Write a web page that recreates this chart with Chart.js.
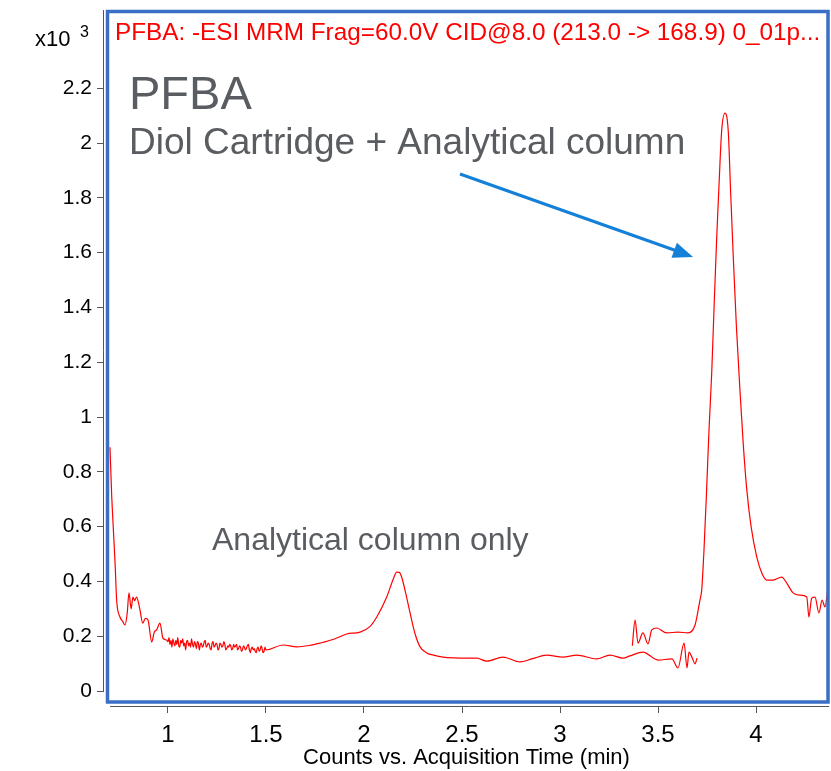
<!DOCTYPE html>
<html lang="en">
<head>
    <meta charset="UTF-8">
    <title>PFBA chromatogram</title>
    <style>
        body { margin: 0; background: #fff; }
        #wrap { width: 831px; height: 771px; }
    </style>
</head>
<body>
    <div id="wrap">
        <canvas id="myChart" width="831" height="771"></canvas>
    </div>

    <script src="https://cdn.jsdelivr.net/npm/chart.js"></script>

    <script>
        // analytical column only (time in min, counts x10^3)
        let t1 = [0.704, 0.713, 0.718, 0.730, 0.738, 0.755, 0.768, 0.781, 0.792, 0.801, 0.812, 0.821, 0.830, 0.840, 0.857, 0.871, 0.885, 0.898, 0.917, 0.930, 0.942, 0.959, 0.974, 0.993,
            1.000, 1.005, 1.010, 1.015, 1.020, 1.025, 1.030, 1.035, 1.040, 1.045, 1.050, 1.055, 1.060, 1.065, 1.070, 1.075, 1.080, 1.085, 1.090, 1.095,
            1.100, 1.105, 1.110, 1.115, 1.120, 1.125, 1.130, 1.135, 1.140, 1.145, 1.150, 1.155, 1.160, 1.165, 1.170, 1.175, 1.180, 1.185, 1.190, 1.195,
            1.200, 1.205, 1.210, 1.215, 1.220, 1.225, 1.230, 1.235, 1.240, 1.245, 1.250, 1.255, 1.260, 1.265, 1.270, 1.275, 1.280, 1.285, 1.290, 1.295,
            1.300, 1.305, 1.310, 1.315, 1.320, 1.325, 1.330, 1.335, 1.340, 1.345, 1.350, 1.355, 1.360, 1.365, 1.370, 1.375, 1.380, 1.385, 1.390, 1.395,
            1.400, 1.405, 1.410, 1.415, 1.420, 1.425, 1.430, 1.435, 1.440, 1.445, 1.450, 1.455, 1.460, 1.465, 1.470, 1.475, 1.480, 1.485, 1.490, 1.495, 1.500,
            1.587, 1.657, 1.720, 1.776, 1.850, 1.912, 1.980, 2.030, 2.065, 2.116, 2.150, 2.167, 2.180, 2.192, 2.215, 2.235, 2.260, 2.286, 2.320, 2.360,
            2.403, 2.460, 2.524, 2.575, 2.626, 2.709, 2.796, 2.860, 2.932, 3.015, 3.085, 3.187, 3.255, 3.321, 3.357, 3.423, 3.500, 3.571,
            3.602, 3.633, 3.648, 3.658, 3.675, 3.689, 3.699];
        let v1 = [0.890, 0.708, 0.635, 0.467, 0.332, 0.270, 0.255, 0.241, 0.285, 0.358, 0.300, 0.343, 0.330, 0.343, 0.296, 0.248, 0.265, 0.259, 0.179, 0.215, 0.223, 0.248, 0.193, 0.186,
            0.180, 0.195, 0.170, 0.185, 0.160, 0.190, 0.175, 0.165, 0.185, 0.170, 0.195, 0.165, 0.160, 0.185, 0.175, 0.190, 0.165, 0.175, 0.150, 0.180,
            0.185, 0.165, 0.175, 0.160, 0.190, 0.170, 0.160, 0.180, 0.170, 0.155, 0.180, 0.175, 0.150, 0.170, 0.175, 0.160, 0.165, 0.180, 0.185, 0.160,
            0.165, 0.175, 0.170, 0.155, 0.150, 0.175, 0.180, 0.160, 0.165, 0.175, 0.170, 0.150, 0.155, 0.175, 0.170, 0.160, 0.165, 0.180, 0.170, 0.150,
            0.155, 0.165, 0.160, 0.170, 0.165, 0.150, 0.155, 0.170, 0.160, 0.165, 0.170, 0.150, 0.155, 0.165, 0.160, 0.145, 0.150, 0.165, 0.160, 0.150,
            0.155, 0.165, 0.170, 0.150, 0.140, 0.155, 0.160, 0.150, 0.155, 0.145, 0.140, 0.155, 0.160, 0.145, 0.150, 0.165, 0.155, 0.140, 0.145, 0.160, 0.150,
            0.168, 0.161, 0.166, 0.175, 0.190, 0.208, 0.215, 0.235, 0.270, 0.343, 0.410, 0.434, 0.433, 0.416, 0.350, 0.285, 0.210, 0.161, 0.139, 0.130,
            0.124, 0.121, 0.120, 0.120, 0.109, 0.124, 0.106, 0.118, 0.131, 0.124, 0.131, 0.117, 0.131, 0.120, 0.128, 0.142, 0.113, 0.117,
            0.084, 0.175, 0.084, 0.142, 0.120, 0.099, 0.120];

        // diol cartridge + analytical column
        let t2 = [3.369, 3.383, 3.398, 3.423, 3.449, 3.468, 3.493, 3.544, 3.602, 3.653, 3.689, 3.714, 3.723, 3.735, 3.748, 3.760, 3.774, 3.786, 3.799, 3.812,
            3.825, 3.842, 3.859, 3.870, 3.884, 3.900, 3.918, 3.935, 3.953, 3.975, 4.004, 4.030, 4.055, 4.087, 4.131, 4.160, 4.189, 4.224, 4.259,
            4.270, 4.284, 4.301, 4.321, 4.337, 4.352, 4.367];
        let v2 = [0.165, 0.259, 0.175, 0.212, 0.172, 0.223, 0.230, 0.212, 0.215, 0.212, 0.241, 0.332, 0.369, 0.520, 0.734, 0.950, 1.161, 1.400, 1.646, 1.860,
            2.047, 2.109, 2.036, 1.830, 1.584, 1.330, 1.099, 0.900, 0.734, 0.600, 0.489, 0.430, 0.405, 0.405, 0.416, 0.390, 0.358, 0.350, 0.343,
            0.270, 0.339, 0.343, 0.285, 0.332, 0.307, 0.376];

        let xTicks = [1, 1.5, 2, 2.5, 3, 3.5, 4];
        let yTicks = [0, 0.2, 0.4, 0.6, 0.8, 1, 1.2, 1.4, 1.6, 1.8, 2, 2.2];

        let titleText = 'PFBA: -ESI MRM Frag=60.0V CID@8.0 (213.0 -> 168.9) 0_01p...';
        let xTitle = 'Counts vs. Acquisition Time (min)';
        let fontFamily = '"Liberation Sans", Arial, sans-serif';

        function toPoints(xs, ys) {
            let pts = [];
            for (let i = 0; i < xs.length; i++) {
                pts.push({ x: xs[i], y: ys[i] });
            }
            return pts;
        }

        function tickText(v) {
            return String(Math.round(v * 10) / 10);
        }

        // frame, axis lines, notes and arrow
        const decor = {
            id: 'decor',
            afterDatasetsDraw(chart) {
                const ctx = chart.ctx;
                const ys = chart.scales.y;
                ctx.save();

                // axis lines
                ctx.strokeStyle = '#555';
                ctx.lineWidth = 1;
                ctx.beginPath();
                ctx.moveTo(103.5, 10);
                ctx.lineTo(103.5, ys.getPixelForValue(0) + 0.5);
                ctx.moveTo(110, 706.5);
                ctx.lineTo(829, 706.5);
                ctx.stroke();

                // blue frame
                ctx.strokeStyle = '#3b6fc6';
                ctx.lineWidth = 3.5;
                ctx.strokeRect(107.5, 11.5, 720.5, 690.5);

                // header text
                ctx.textBaseline = 'middle';
                ctx.textAlign = 'left';
                ctx.fillStyle = '#ff0000';
                ctx.font = '24.3px ' + fontFamily;
                ctx.fillText(titleText, 115, 33);

                ctx.fillStyle = '#000';
                ctx.font = '22px ' + fontFamily;
                ctx.fillText('x10', 35, 40);
                ctx.font = '16px ' + fontFamily;
                ctx.fillText('3', 80, 33);

                // notes
                ctx.fillStyle = '#595c60';
                ctx.font = '47px ' + fontFamily;
                ctx.fillText('PFBA', 129, 96);
                ctx.font = '37px ' + fontFamily;
                ctx.fillText('Diol Cartridge + Analytical column', 129, 144);
                ctx.font = '32px ' + fontFamily;
                ctx.fillText('Analytical column only', 212, 541);

                // arrow
                ctx.strokeStyle = '#1480d8';
                ctx.fillStyle = '#1480d8';
                ctx.lineWidth = 3;
                ctx.beginPath();
                ctx.moveTo(460, 174);
                ctx.lineTo(677, 251);
                ctx.stroke();
                ctx.beginPath();
                ctx.moveTo(693, 257);
                ctx.lineTo(671.5, 257.8);
                ctx.lineTo(676.9, 242.8);
                ctx.closePath();
                ctx.fill();

                ctx.restore();
            }
        };

        const ctx = document.getElementById('myChart');

        let datasets = [
            {
                label: 'Analytical column only',
                data: toPoints(t1, v1),
                borderColor: '#ff0000',
                borderWidth: 1.2,
                pointRadius: 0,
                cubicInterpolationMode: 'monotone',
            },
            {
                label: 'Diol Cartridge + Analytical column',
                data: toPoints(t2, v2),
                borderColor: '#ff0000',
                borderWidth: 1.2,
                pointRadius: 0,
                cubicInterpolationMode: 'monotone',
            },
        ];

        let options = {
            responsive: false,
            animation: false,
            layout: {
                padding: { top: 10, right: 2, left: 0, bottom: 0 }
            },
            plugins: {
                legend: { display: false },
                tooltip: { enabled: false },
            },
            scales: {
                x: {
                    type: 'linear',
                    min: 0.6735,
                    max: 4.3724,
                    afterFit: s => { s.height = 65; s.paddingLeft = 0; s.paddingRight = 0; },
                    afterBuildTicks: s => { s.ticks = xTicks.map(v => ({ value: v })); },
                    border: { display: false },
                    grid: { drawOnChartArea: false, drawTicks: true, tickLength: 7, color: '#555' },
                    ticks: {
                        color: '#000',
                        padding: 8,
                        maxRotation: 0,
                        font: { family: fontFamily, size: 24 },
                        callback: tickText,
                    },
                    title: {
                        display: true,
                        text: xTitle,
                        color: '#000',
                        padding: { top: 0, bottom: 0 },
                        font: { family: fontFamily, size: 22 },
                    },
                },
                y: {
                    type: 'linear',
                    min: -0.0547,
                    max: 2.4854,
                    afterFit: s => { s.width = 104; s.paddingTop = 0; s.paddingBottom = 0; },
                    afterBuildTicks: s => { s.ticks = yTicks.map(v => ({ value: v })); },
                    border: { display: false },
                    grid: { drawOnChartArea: false, drawTicks: true, tickLength: 7, color: '#555' },
                    ticks: {
                        color: '#000',
                        padding: 5,
                        font: { family: fontFamily, size: 21 },
                        callback: tickText,
                    },
                },
            },
        };

        let chart = new Chart(ctx, {
            type: 'line',
            data: { datasets: datasets },
            options: options,
            plugins: [decor],
        });
    </script>
</body>
</html>
